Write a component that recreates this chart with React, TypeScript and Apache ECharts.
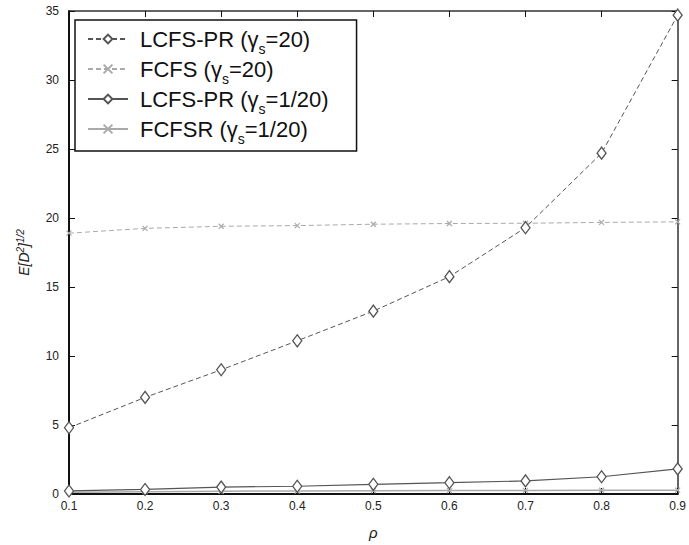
import React, { useEffect, useRef } from "react";
import * as echarts from "echarts";

const rhoValues = [0.1, 0.2, 0.3, 0.4, 0.5, 0.6, 0.7, 0.8, 0.9];
const lcfsPr20 = [4.8, 7.0, 9.0, 11.1, 13.25, 15.75, 19.3, 24.7, 34.7];
const fcfs20 = [18.9, 19.25, 19.4, 19.45, 19.55, 19.6, 19.62, 19.68, 19.72];
const lcfsPr120 = [0.22, 0.33, 0.5, 0.56, 0.7, 0.82, 0.95, 1.25, 1.82];
const fcfsr120 = [0.12, 0.17, 0.2, 0.22, 0.24, 0.25, 0.26, 0.27, 0.28];

const seriesNames = [
  "LCFS-PR (γ{s|s}=20)",
  "FCFS (γ{s|s}=20)",
  "LCFS-PR (γ{s|s}=1/20)",
  "FCFSR (γ{s|s}=1/20)",
];

const FONT = "Liberation Sans, Arial, Helvetica, sans-serif";
const CROSS = "path://M0,0L10,10M10,0L0,10";

export default function App() {
  const ref = useRef<HTMLDivElement>(null);
  useEffect(() => {
    if (!ref.current) return;
    const chart = echarts.init(ref.current, undefined, { renderer: "svg" });
    const pairs = (arr: number[]) => rhoValues.map((x, i) => [x, arr[i]]);
    const dark = "#555555";
    const light = "#aaaaaa";
    const frameAxisX = {
      type: "value",
      min: 0.1,
      max: 0.9,
      interval: 0.1,
      splitLine: { show: false },
    };
    const frameAxisY = {
      type: "value",
      min: 0,
      max: 35,
      interval: 5,
      splitLine: { show: false },
    };
    chart.setOption({
      animation: false,
      backgroundColor: "#ffffff",
      grid: { left: 69, right: 8, top: 11, bottom: 51, show: false },
      legend: {
        orient: "vertical",
        left: 75,
        top: 20,
        padding: [8, 28, 5, 12],
        borderColor: "#111",
        borderWidth: 1.5,
        itemWidth: 40,
        itemHeight: 11,
        itemGap: 2,
        data: seriesNames,
        textStyle: {
          fontFamily: FONT,
          fontSize: 22,
          color: "#111",
          padding: [0, 0, 0, 7],
          rich: {
            s: { fontSize: 14, fontFamily: FONT, color: "#111", padding: [20, 0, 0, 0] },
          },
        },
      },
      xAxis: [
        {
          ...frameAxisX,
          position: "bottom",
          name: "ρ",
          nameLocation: "middle",
          nameGap: 31,
          nameTextStyle: { fontFamily: FONT, fontSize: 15, fontStyle: "italic", color: "#222" },
          axisLine: { show: true, onZero: false, lineStyle: { color: "#111", width: 2 } },
          axisTick: { show: true, inside: true, length: 6, lineStyle: { color: "#111" } },
          axisLabel: {
            fontFamily: FONT,
            fontSize: 12,
            color: "#222",
            margin: 6,
            formatter: (v: number) => v.toFixed(1),
          },
        },
        {
          ...frameAxisX,
          position: "top",
          axisLine: { show: true, onZero: false, lineStyle: { color: "#333", width: 1.5 } },
          axisTick: { show: true, inside: true, length: 6, lineStyle: { color: "#111" } },
          axisLabel: { show: false },
        },
      ],
      yAxis: [
        {
          ...frameAxisY,
          position: "left",
          name: "E[D{sup|2}]{sup|1/2}",
          nameLocation: "middle",
          nameGap: 36,
          nameTextStyle: {
            fontFamily: FONT,
            fontSize: 14,
            fontStyle: "italic",
            color: "#222",
            rich: {
              sup: { fontSize: 10, fontStyle: "italic", fontFamily: FONT, color: "#222", padding: [0, 0, 8, 0] },
            },
          },
          axisLine: { show: true, onZero: false, lineStyle: { color: "#111", width: 2 } },
          axisTick: { show: true, inside: true, length: 6, lineStyle: { color: "#111" } },
          axisLabel: { fontFamily: FONT, fontSize: 12, color: "#222", margin: 10 },
        },
        {
          ...frameAxisY,
          position: "right",
          axisLine: { show: true, onZero: false, lineStyle: { color: "#333", width: 1.5 } },
          axisTick: { show: true, inside: true, length: 6, lineStyle: { color: "#111" } },
          axisLabel: { show: false },
        },
      ],
      series: [
        {
          name: seriesNames[0],
          type: "line",
          data: pairs(lcfsPr20),
          symbol: "diamond",
          symbolSize: [9, 12],
          lineStyle: { color: dark, width: 1, type: [5, 3] },
          itemStyle: { color: "#fff", borderColor: dark, borderWidth: 1.3 },
          z: 4,
        },
        {
          name: seriesNames[1],
          type: "line",
          data: pairs(fcfs20),
          symbol: CROSS,
          symbolSize: 5,
          lineStyle: { color: light, width: 1, type: [5, 3] },
          itemStyle: { color: light, borderColor: light, borderWidth: 1.2 },
          z: 3,
        },
        {
          name: seriesNames[2],
          type: "line",
          data: pairs(lcfsPr120),
          symbol: "diamond",
          symbolSize: [9, 12],
          lineStyle: { color: dark, width: 1.2, type: "solid" },
          itemStyle: { color: "#fff", borderColor: dark, borderWidth: 1.3 },
          z: 4,
        },
        {
          name: seriesNames[3],
          type: "line",
          data: pairs(fcfsr120),
          symbol: CROSS,
          symbolSize: 5,
          lineStyle: { color: light, width: 1.5, type: "solid" },
          itemStyle: { color: light, borderColor: light, borderWidth: 1.2 },
          z: 3,
        },
      ],
    });

    return () => chart.dispose();
  }, []);
  return <div ref={ref} style={{ width: 689, height: 545, position: "absolute", left: 0, top: 0 }} />;
}
